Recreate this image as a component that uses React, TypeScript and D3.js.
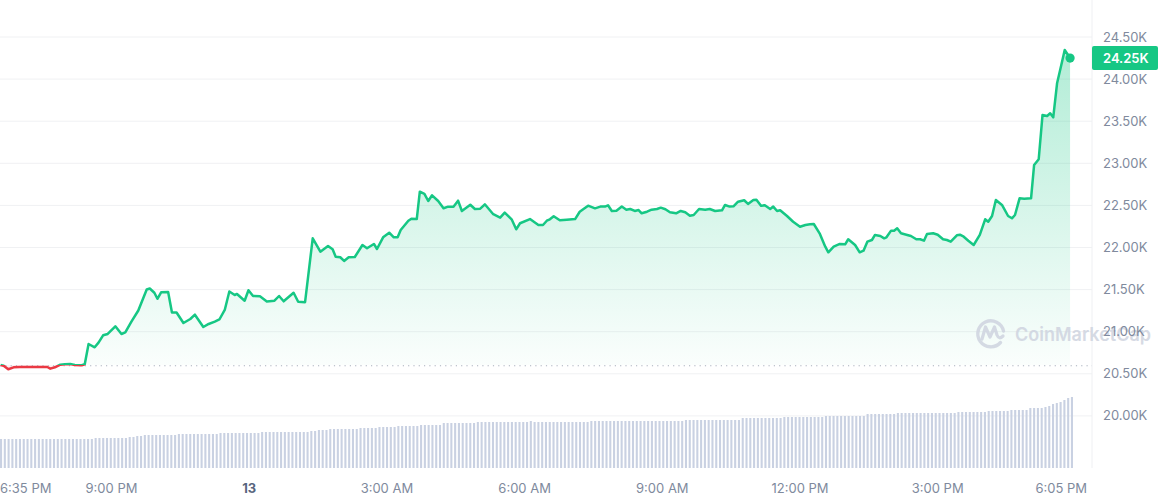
import React from 'react';
import * as d3 from 'd3';

// Time of each sample, minutes after 12 Mar 2023 18:35
const minutes = [
  0, 4, 10, 17, 25, 42, 61, 65, 71, 78, 84, 91, 97, 106, 110, 115, 123, 128, 134, 140,
  150, 158, 163, 171, 180, 191, 195, 201, 205, 210, 219, 224, 230, 239, 248, 254, 265, 272, 280, 286,
  293, 299, 306, 309, 319, 324, 330, 339, 348, 358, 364, 370, 383, 389, 398,
  408, 418, 428, 434, 438, 444, 449, 455, 463, 473, 479, 488, 492, 500, 508, 514, 519, 523, 533, 537,
  544, 548, 554, 559, 564, 572, 579, 585, 592, 598, 603, 614, 620, 627, 633, 644, 653, 659, 668, 674,
  679, 692, 703, 709,
  714, 718, 723, 731, 740, 751, 757, 762, 768, 777, 784, 790, 794, 799, 805, 812, 818, 823, 829, 834,
  838, 845, 851, 858, 863, 869, 875, 883, 889, 895, 901, 906, 913, 921, 927, 934, 943, 947, 953, 958,
  964, 972, 977, 984, 988, 994, 999, 1006, 1010, 1015, 1019, 1028, 1036, 1045, 1052, 1058, 1063, 1071, 1078, 1082,
  1089, 1097, 1104, 1108, 1117, 1123, 1128, 1133, 1139, 1143, 1150, 1155, 1158, 1164, 1168, 1172, 1177, 1184, 1190, 1197,
  1202, 1207, 1211, 1219, 1225, 1232, 1237, 1242, 1250, 1254, 1259, 1265, 1272, 1280, 1287, 1291, 1296, 1301, 1309, 1317,
  1322, 1326, 1332, 1338, 1347, 1351, 1357, 1362, 1368, 1372, 1376, 1381, 1386, 1391, 1398,
];

// Price (USD) at each sample
const prices = [
  20605, 20596, 20554, 20577, 20581, 20581, 20581, 20561, 20577, 20608, 20613, 20617, 20605, 20601, 20613, 20854, 20815, 20870, 20957, 20973,
  21064, 20973, 20991, 21119, 21252, 21501, 21513, 21463, 21391, 21469, 21472, 21228, 21228, 21103, 21151, 21202, 21056, 21092, 21119, 21145,
  21258, 21478, 21436, 21448, 21368, 21492, 21424, 21421, 21359, 21368, 21424, 21361, 21462, 21356, 21351,
  22109, 21950, 22018, 21979, 21891, 21884, 21840, 21884, 21887, 22030, 21991, 22042, 21982, 22121, 22176, 22121, 22121, 22208, 22318, 22342,
  22338, 22663, 22636, 22552, 22620, 22552, 22466, 22485, 22485, 22556, 22434, 22508, 22457, 22461, 22513, 22395, 22354, 22414, 22335, 22216,
  22288, 22338, 22267, 22267,
  22318, 22335, 22371, 22323, 22330, 22338, 22425, 22457, 22497, 22465, 22486, 22486, 22501, 22434, 22437, 22486, 22449, 22457, 22434, 22445,
  22406, 22425, 22449, 22457, 22473, 22454, 22418, 22406, 22434, 22418, 22378, 22386, 22457, 22449, 22457, 22434, 22442, 22505, 22486, 22489,
  22544, 22561, 22517, 22564, 22568, 22496, 22501, 22457, 22486, 22434, 22442, 22374, 22306, 22247, 22267, 22276, 22279, 22161, 22010, 21943,
  22010, 22042, 22038, 22098, 22030, 21943, 21962, 22069, 22089, 22149, 22137, 22109, 22121, 22200, 22200, 22228, 22169, 22152, 22137, 22098,
  22098, 22081, 22161, 22169, 22152, 22098, 22089, 22069, 22145, 22152, 22128, 22081, 22030, 22149, 22335, 22306, 22374, 22564, 22505, 22374,
  22347, 22386, 22584, 22580, 22584, 22980, 23048, 23574, 23562, 23594, 23546, 23950, 24147, 24346, 24250,
];

// 5-minute volume bars (relative units)
const volumes = [
  29, 29, 29, 29, 29, 29, 29, 29, 29, 29, 29, 29, 29, 29, 29, 29, 29, 29, 29, 29, 29, 29, 29, 29, 29,
  30, 30, 30, 30, 30, 30, 30, 30, 30,
  31, 31, 32, 32, 33, 33,
  33, 33, 33, 33, 33, 33, 33,
  34, 34, 34, 34, 34, 34, 34, 34, 34, 34, 34,
  35, 35, 35, 35, 35, 35, 35, 35, 35, 35, 35,
  36, 36, 36, 36, 36, 36, 36, 36, 36, 36, 36, 36, 36,
  37, 37, 38, 38, 38,
  39, 39, 39, 39, 39, 39, 39, 39,
  40, 40, 40, 40, 40,
  41, 41, 41, 41, 41,
  42, 42, 42, 42, 42, 42,
  43, 43, 43, 43, 43, 43,
  45, 45, 45, 45, 45, 45, 45, 45, 45,
  46, 46, 46, 46, 46, 46, 46, 46, 46, 46, 46, 46, 46, 46, 47, 46, 46, 46,
  46, 46, 46, 46, 46, 46, 46, 46, 46, 46, 46, 46,
  47, 47, 47, 47, 47, 47, 47, 47, 47, 47, 47, 47, 47, 47, 47, 47, 47, 47, 47, 47, 47, 47, 47, 47, 47,
  48, 48, 48, 48, 48, 48, 48, 48, 48, 48, 48, 48, 48, 48, 48,
  50, 50, 50, 50, 50, 50, 50, 50, 50, 50, 50,
  51, 51, 51, 51, 51, 51, 51, 51, 51, 51, 51,
  52, 52, 52, 52, 52, 52, 52, 52, 52, 52, 52,
  54, 54, 54, 54, 54, 54, 54, 54,
  55, 55, 55, 55, 55, 55, 55, 55, 55, 55, 55, 55, 55, 55, 55, 55,
  56, 56, 56, 56, 56, 56, 56, 56,
  57, 57, 57, 57, 57, 57,
  58, 58, 58, 58, 58,
  60, 60, 60, 60,
  61, 62, 64, 65, 66, 68, 70, 71,
];

const yTickValues = [20000, 20500, 21000, 21500, 22000, 22500, 23000, 23500, 24000, 24500];
const xTickTimes = [
  new Date(2023, 2, 12, 21, 0),
  new Date(2023, 2, 13, 0, 0),
  new Date(2023, 2, 13, 3, 0),
  new Date(2023, 2, 13, 6, 0),
  new Date(2023, 2, 13, 9, 0),
  new Date(2023, 2, 13, 12, 0),
  new Date(2023, 2, 13, 15, 0),
];
const xTickLabels = ['9:00 PM', '13', '3:00 AM', '6:00 AM', '9:00 AM', '12:00 PM', '3:00 PM'];
const firstLabel = '6:35 PM';
const lastLabel = '6:05 PM';
const currentLabel = '24.25K';

const START = new Date(2023, 2, 12, 18, 35);
const END = new Date(2023, 2, 13, 18, 5);

const GREEN = '#16c784';
const RED = '#ea3943';
const AXIS = '#808a9d';
const FONT = 'Inter, "Noto Sans", sans-serif';

export default function App() {
  const W = 1161;
  const H = 500;
  const plotRight = 1092;

  const x = d3.scaleTime().domain([START, END]).range([0.6, 0.6 + 23.5 * 45.9]);
  const y = d3.scaleLinear().domain([20000, 24500]).range([415.9, 37]);
  const volY = d3.scaleLinear().domain([0, 100]).range([468, 368]);
  const band = d3
    .scaleBand<number>()
    .domain(volumes.map((_, i) => i))
    .range([0, 1073])
    .paddingInner(0.45)
    .paddingOuter(0);

  const data = minutes.map((m, i) => ({ t: new Date(START.getTime() + m * 60000), p: prices[i] }));
  const base = prices[0];
  const yb = y(base);

  const line = d3
    .line<{ t: Date; p: number }>()
    .x((d) => x(d.t))
    .y((d) => y(d.p));
  const area = d3
    .area<{ t: Date; p: number }>()
    .x((d) => x(d.t))
    .y0(yb)
    .y1((d) => y(d.p));

  const last = data[data.length - 1];
  const lx = x(last.t);
  const ly = y(last.p);

  const fmt = (v: number) => (v / 1000).toFixed(2) + 'K';

  return (
    <svg
      width={W}
      height={H}
      style={{ position: 'absolute', left: 0, top: 0, background: '#fff' }}
      fontFamily={FONT}
    >
      <defs>
        <linearGradient id="gArea" gradientUnits="userSpaceOnUse" x1="0" y1="40" x2="0" y2={yb}>
          <stop offset="0" stopColor={GREEN} stopOpacity={0.34} />
          <stop offset="1" stopColor={GREEN} stopOpacity={0.02} />
        </linearGradient>
        <clipPath id="above">
          <rect x={0} y={0} width={W} height={yb} />
        </clipPath>
        <clipPath id="below">
          <rect x={0} y={yb} width={W} height={H - yb} />
        </clipPath>
      </defs>

      {/* horizontal grid */}
      {yTickValues.map((v) => (
        <line key={v} x1={0} x2={plotRight} y1={y(v)} y2={y(v)} stroke="#f0f1f3" strokeWidth={1} />
      ))}
      <line x1={plotRight} x2={plotRight} y1={0} y2={468} stroke="#eff0f3" strokeWidth={1} />

      {/* volume bars */}
      {volumes.map((v, i) => (
        <rect
          key={i}
          x={band(i)}
          width={band.bandwidth()}
          y={volY(v)}
          height={468 - volY(v)}
          fill="#c9d1e2"
        />
      ))}

      {/* area */}
      <path d={area(data) || ''} fill="url(#gArea)" clipPath="url(#above)" />
      <path d={area(data) || ''} fill={RED} fillOpacity={0.06} clipPath="url(#below)" />

      {/* baseline */}
      <line
        x1={0}
        x2={plotRight}
        y1={yb + 0.8}
        y2={yb + 0.8}
        stroke="#a9b0bd"
        strokeWidth={1}
        strokeDasharray="1.2 4.1"
      />

      {/* watermark */}
      <g opacity={0.85}>
        <path
          d="M 1000.5 342.5 A 13 13 0 1 1 1003.5 331"
          fill="none"
          stroke="#cfd4e0"
          strokeWidth={3.4}
          strokeLinecap="round"
        />
        <path
          d="M 982 339 L 985.5 327 L 990 337 L 994.5 327 L 997 335 Q 999 340 1003 336"
          fill="none"
          stroke="#cfd4e0"
          strokeWidth={3.2}
          strokeLinejoin="round"
          strokeLinecap="round"
        />
        <text x={1015} y={341} fontSize={18.5} fontWeight={600} fill="#cfd4e0" textLength={136} lengthAdjust="spacingAndGlyphs">
          CoinMarketCap
        </text>
      </g>

      {/* price line */}
      <path d={line(data) || ''} fill="none" stroke={GREEN} strokeWidth={2.5} strokeLinejoin="round" clipPath="url(#above)" />
      <path d={line(data) || ''} fill="none" stroke={RED} strokeWidth={2.5} strokeLinejoin="round" clipPath="url(#below)" />
      <circle cx={lx} cy={ly} r={4.6} fill={GREEN} />

      {/* y axis labels */}
      {yTickValues.map((v) => (
        <text key={v} x={1103} y={y(v)} dy="0.35em" fontSize={13} fill={AXIS}>
          {fmt(v)}
        </text>
      ))}

      {/* current price tag */}
      <rect x={1092} y={y(24250) - 12} width={66} height={24} rx={2} fill={GREEN} />
      <text x={1103} y={y(24250)} dy="0.35em" fontSize={13} fontWeight={600} fill="#fff">
        {currentLabel}
      </text>

      {/* x axis labels */}
      <text x={0} y={488} dy="0.35em" fontSize={13} fill={AXIS}>
        {firstLabel}
      </text>
      {xTickTimes.map((t, i) => (
        <text
          key={i}
          x={x(t)}
          y={488}
          dy="0.35em"
          textAnchor="middle"
          fontSize={13}
          fontWeight={xTickLabels[i] === '13' ? 700 : 400}
          fill={xTickLabels[i] === '13' ? '#58667e' : AXIS}
        >
          {xTickLabels[i]}
        </text>
      ))}
      <text x={1087} y={488} dy="0.35em" textAnchor="end" fontSize={13} fill={AXIS}>
        {lastLabel}
      </text>
    </svg>
  );
}
